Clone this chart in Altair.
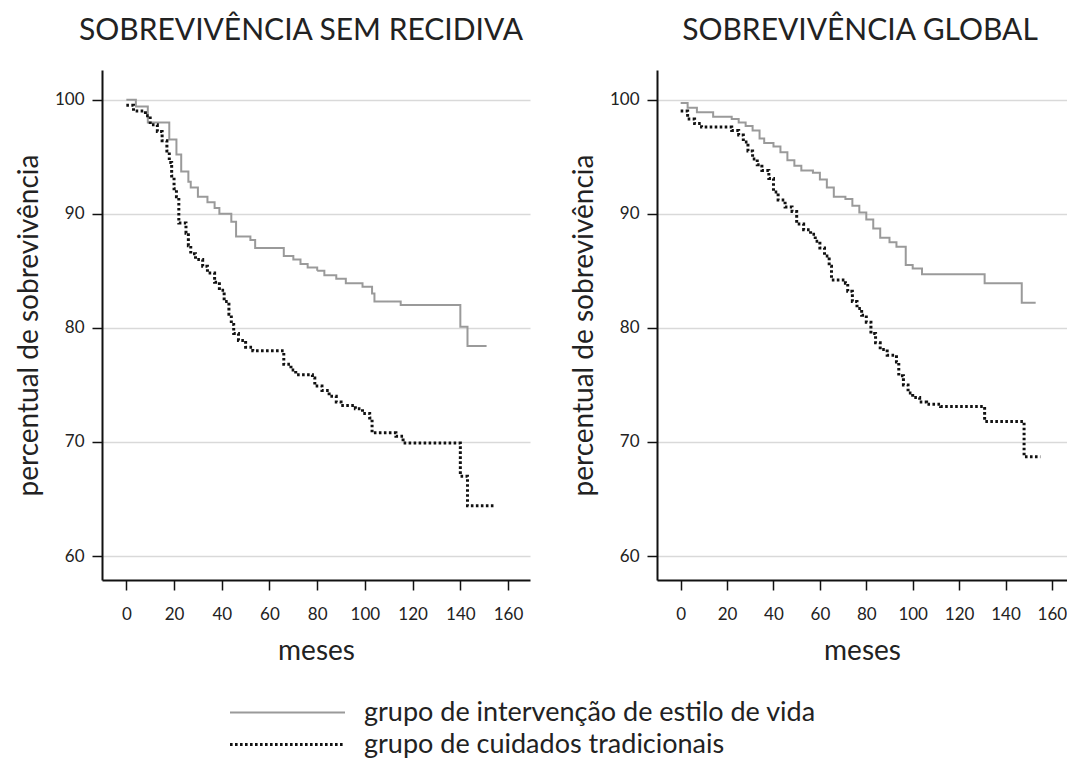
import altair as alt
import pandas as pd

groups = ["grupo de intervenção de estilo de vida", "grupo de cuidados tradicionais"]
panel_titles = ["SOBREVIVÊNCIA SEM RECIDIVA", "SOBREVIVÊNCIA GLOBAL"]
x_ticks = [0, 20, 40, 60, 80, 100, 120, 140, 160]
y_ticks = [60, 70, 80, 90, 100]

# Sobrevivência sem recidiva - intervenção
rfs_int_months = [0, 4, 9, 18, 21, 23, 26, 27, 30, 34, 37, 39, 44, 46, 52, 54, 66, 70, 73, 76, 80, 83, 88, 92, 99, 103, 104, 115, 140, 143, 151]
rfs_int_pct = [100, 99.4, 98.0, 96.5, 95.2, 93.7, 92.8, 92.3, 91.5, 91.0, 90.5, 90.0, 89.3, 88.0, 87.7, 87.0, 86.3, 86.0, 85.6, 85.3, 85.0, 84.6, 84.3, 83.9, 83.6, 83.0, 82.3, 82.0, 80.1, 78.4, 78.4]

# Sobrevivência sem recidiva - cuidados tradicionais
rfs_trad_months = [0, 3, 8, 10, 13, 15, 17, 18, 19, 20, 21, 22, 25, 26, 27, 29, 32, 34, 37, 39, 41, 43, 44, 45, 47, 50, 53, 66, 69, 71, 78, 79, 82, 85, 88, 90, 96, 99, 102, 103, 113, 116, 140, 143, 154]
rfs_trad_pct = [99.5, 99.0, 98.6, 97.8, 97.2, 96.4, 95.5, 94.5, 93.3, 92.2, 91.5, 89.2, 88.3, 87.2, 86.5, 86.0, 85.4, 84.8, 84.0, 83.3, 82.3, 81.2, 80.3, 79.5, 78.9, 78.3, 78.0, 76.8, 76.3, 75.9, 75.6, 74.9, 74.5, 74.0, 73.5, 73.2, 72.9, 72.5, 72.1, 70.8, 70.5, 69.9, 67.0, 64.4, 64.4]

# Sobrevivência global - intervenção
os_int_months = [0, 3, 7, 14, 22, 25, 28, 31, 34, 36, 40, 43, 46, 49, 52, 57, 60, 63, 66, 71, 74, 77, 80, 83, 86, 90, 93, 97, 100, 104, 131, 147, 153]
os_int_pct = [99.7, 99.3, 98.9, 98.5, 98.3, 98.0, 97.7, 97.3, 96.6, 96.2, 95.9, 95.4, 94.7, 94.2, 93.8, 93.6, 93.0, 92.3, 91.5, 91.3, 90.7, 90.1, 89.5, 88.7, 87.9, 87.5, 87.1, 85.5, 85.2, 84.7, 83.9, 82.2, 82.2]

# Sobrevivência global - cuidados tradicionais
os_trad_months = [0, 3, 6, 9, 22, 25, 27, 29, 31, 33, 35, 38, 40, 42, 45, 48, 50, 53, 56, 58, 60, 62, 64, 65, 71, 72, 74, 76, 78, 80, 82, 84, 86, 89, 93, 94, 96, 98, 100, 103, 106, 112, 131, 148, 155]
os_trad_pct = [99.0, 98.3, 97.9, 97.6, 97.3, 96.9, 96.3, 95.5, 94.8, 94.3, 93.8, 93.1, 91.9, 91.2, 90.6, 90.2, 89.1, 88.6, 88.2, 87.6, 87.0, 86.3, 85.4, 84.2, 83.9, 83.2, 82.3, 81.7, 81.1, 80.5, 79.5, 78.7, 78.1, 77.6, 77.0, 75.8, 75.0, 74.3, 73.9, 73.5, 73.3, 73.1, 71.8, 68.7, 68.7]


def frame(months, pct, group):
    return pd.DataFrame({"meses": months, "pct": pct, "grupo": group})


rfs_df = pd.concat([frame(rfs_int_months, rfs_int_pct, groups[0]),
                    frame(rfs_trad_months, rfs_trad_pct, groups[1])])
os_df = pd.concat([frame(os_int_months, os_int_pct, groups[0]),
                   frame(os_trad_months, os_trad_pct, groups[1])])

FONT = "Lato"
BIG = 28


def panel(df, title, width, xmax, dx):
    return alt.Chart(df).mark_line(interpolate="step-after", strokeCap="butt").encode(
        x=alt.X("meses:Q",
                scale=alt.Scale(domain=[-10.2, xmax], nice=False, zero=False),
                axis=alt.Axis(values=x_ticks, title="meses", grid=False)),
        y=alt.Y("pct:Q",
                scale=alt.Scale(domain=[57.9, 102.6], nice=False, zero=False),
                axis=alt.Axis(values=y_ticks, title="percentual de sobrevivência", grid=True)),
        color=alt.Color("grupo:N", scale=alt.Scale(domain=groups, range=["#9a9a9a", "#111111"]),
                        legend=alt.Legend(title=None)),
        strokeDash=alt.StrokeDash("grupo:N", scale=alt.Scale(domain=groups, range=[[1, 0], [2.6, 2.4]]),
                                  legend=alt.Legend(title=None)),
        strokeWidth=alt.StrokeWidth("grupo:N", scale=alt.Scale(domain=groups, range=[2, 3]),
                                    legend=alt.Legend(title=None)),
    ).properties(
        width=width, height=510,
        title=alt.TitleParams(title, baseline="alphabetic", offset=0, dx=dx),
    )


left = panel(rfs_df, panel_titles[0], 428, 169.2, -15)
right = panel(os_df, panel_titles[1], 410, 166.5, -2)

chart = alt.hconcat(left, right, spacing=40).properties(
    padding={"left": 7, "top": 8, "right": 0, "bottom": 5}
).configure_view(stroke=None).configure_axis(
    domainColor="#111111", domainWidth=2,
    tickColor="#111111", tickWidth=1.5, tickSize=10,
    labelFont=FONT, labelFontSize=17, labelColor="#222222", labelPadding=8,
    titleFont=FONT, titleFontSize=BIG, titleFontWeight="normal", titleColor="#222222", titlePadding=11,
    gridColor="#d9d9d9", gridWidth=1.5,
).configure_axisX(labelPadding=16, titlePadding=15).configure_title(
    font=FONT, fontSize=30, fontWeight="normal", color="#222222", anchor="middle",
).configure_legend(
    orient="none", legendX=172, legendY=629, direction="vertical",
    labelFont=FONT, labelFontSize=27, labelColor="#222222", labelOffset=63, labelLimit=0,
    symbolType="M-5,0H5", symbolSize=529, rowPadding=4,
)

chart.save("out.html", embed_options={"renderer": "svg", "actions": False})
